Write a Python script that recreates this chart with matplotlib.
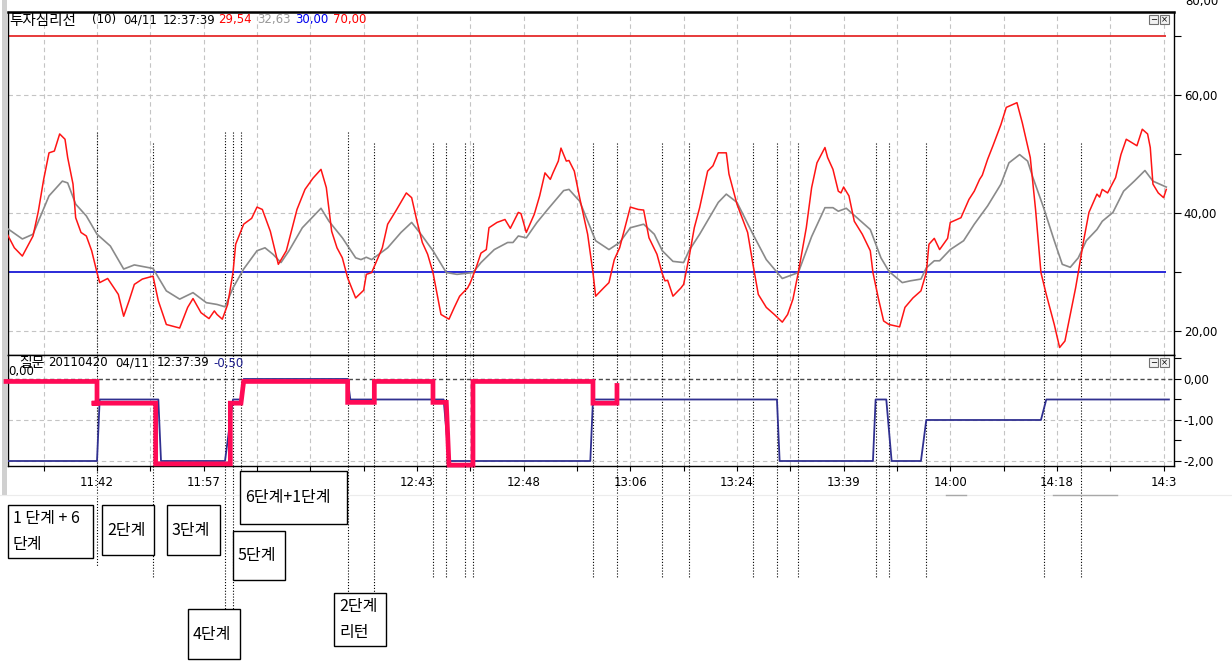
import matplotlib
matplotlib.use("Agg")
import matplotlib.pyplot as plt
from matplotlib.lines import Line2D
from matplotlib.patches import Rectangle
from matplotlib.transforms import blended_transform_factory

plt.rcParams['font.family'] = ['DejaVu Sans', 'Noto Sans CJK KR']

W, H, DPI = 1232, 669, 100

# ------------------------------------------------------------------ data
# x = bar index (20 bars between two time ticks)
red_t = [0, 3, 6, 10, 12, 14, 16, 18, 20, 22, 23, 25, 26, 28, 30, 32, 34, 35, 38, 42,
         44, 46, 48, 51, 55, 57, 60, 65, 68, 70, 73, 76, 78, 79, 81, 83, 85, 86, 89, 92,
         94, 96, 99, 102, 105, 109, 112, 115, 118, 120, 122, 124, 126, 128, 131, 134, 135, 137, 141, 143,
         146, 150, 152, 154, 156, 158, 160, 163, 166, 168, 170, 173, 174, 176, 178, 180, 181, 184, 187, 189,
         192, 193, 195, 198, 200, 202, 204, 205, 207, 208, 210, 211, 213, 215, 218, 220, 221, 224, 226, 228,
         230, 234, 237, 239, 241, 244, 246, 247, 248, 250, 253, 254, 256, 258, 260, 263, 265, 267, 270, 271,
         274, 278, 280, 282, 285, 288, 291, 293, 295, 297, 300, 302, 304, 307, 308, 310, 312, 313, 314, 316,
         318, 321, 324, 325, 327, 329, 331, 335, 337, 340, 343, 345, 346, 348, 350, 353, 354, 358, 361, 363,
         365, 366, 368, 370, 373, 375, 379, 381, 384, 386, 388, 390, 393, 395, 397, 399, 401, 402, 404, 406,
         409, 410, 411, 413, 416, 418, 420, 424, 426, 428, 429, 430, 432, 434, 435]
red_v = [36.7, 34.1, 32.7, 36.1, 40.3, 45.7, 50.2, 50.5, 53.4, 52.5, 49.4, 44.9, 39.2, 36.7, 36.1, 33.6, 29.9, 28.2, 28.9, 26.2,
         22.5, 25.1, 27.9, 28.8, 29.3, 25.1, 21.1, 20.5, 24.0, 25.5, 23.1, 22.1, 23.4, 22.8, 22.0, 24.5, 29.9, 34.7, 38.1, 39.1,
         41.0, 40.6, 36.9, 31.3, 33.6, 40.6, 44.0, 45.9, 47.4, 44.3, 36.9, 34.1, 32.4, 29.0, 25.6, 26.9, 29.6, 29.9, 34.1, 38.1,
         40.3, 43.4, 42.6, 38.6, 35.0, 33.0, 29.9, 22.8, 22.0, 24.0, 25.9, 27.3, 28.2, 30.5, 33.2, 33.8, 37.5, 38.4, 38.9, 37.4,
         40.1, 39.9, 36.7, 39.8, 42.9, 46.8, 45.7, 46.8, 48.8, 51.0, 48.8, 48.9, 47.1, 42.6, 36.4, 29.9, 25.9, 27.3, 28.2, 32.1,
         34.1, 41.0, 40.6, 40.5, 35.8, 33.0, 29.7, 28.5, 28.6, 25.9, 27.3, 27.9, 32.4, 37.5, 40.9, 47.1, 48.0, 50.2, 50.2, 46.6,
         41.5, 36.7, 31.3, 26.2, 24.0, 22.8, 21.5, 22.8, 25.4, 29.9, 37.5, 44.3, 48.5, 51.1, 49.4, 47.4, 43.7, 43.4, 44.4, 42.9,
         38.6, 36.4, 33.6, 29.9, 25.6, 21.7, 21.1, 20.7, 24.0, 25.6, 26.8, 29.9, 34.7, 35.7, 33.8, 35.7, 38.4, 39.2, 42.3, 43.7,
         45.7, 46.4, 49.1, 51.4, 55.0, 57.9, 58.7, 55.3, 49.4, 40.5, 29.9, 26.2, 21.1, 17.2, 18.3, 22.8, 27.3, 29.9, 35.3, 40.1,
         43.2, 42.7, 44.0, 43.4, 46.0, 49.9, 52.5, 51.4, 54.2, 53.4, 51.1, 44.9, 43.4, 42.6, 44.0]

gray_t = [0, 6, 10, 16, 21, 23, 26, 30, 34, 39, 44, 48, 55, 60, 65, 70, 75, 79, 82, 85,
          89, 94, 97, 100, 103, 106, 111, 118, 121, 126, 131, 133, 135, 137, 143, 148, 152, 156, 160, 165,
          169, 175, 178, 183, 188, 190, 192, 195, 199, 203, 209, 211, 215, 221, 226, 230, 234, 239, 243, 246,
          250, 254, 256, 260, 267, 270, 274, 280, 285, 291, 297, 302, 307, 310, 312, 315, 319, 324, 328, 331,
          336, 339, 343, 345, 348, 350, 354, 359, 363, 368, 373, 376, 380, 383, 385, 389, 393, 396, 399, 402,
          405, 409, 411, 415, 419, 423, 427, 430, 435]
gray_v = [37.5, 35.6, 36.4, 42.9, 45.4, 45.1, 41.5, 39.5, 36.4, 34.4, 30.5, 31.2, 30.6, 26.8, 25.4, 26.5, 24.8, 24.5, 24.1, 27.3,
          30.5, 33.6, 34.1, 33.0, 31.6, 33.6, 37.5, 40.8, 38.6, 35.8, 32.4, 32.1, 32.5, 32.1, 34.1, 36.7, 38.4, 36.1, 33.6, 29.9,
          29.6, 29.9, 31.6, 33.8, 35.0, 35.0, 36.1, 35.8, 38.4, 40.6, 43.8, 44.0, 42.0, 35.3, 33.8, 35.0, 37.5, 38.1, 36.4, 33.6,
          31.8, 31.6, 33.6, 36.4, 41.8, 43.2, 41.8, 36.4, 32.1, 28.9, 29.9, 36.0, 40.9, 40.9, 40.3, 40.8, 39.2, 37.2, 32.4, 30.1,
          28.2, 28.5, 28.8, 30.7, 31.9, 31.9, 33.8, 35.3, 38.1, 41.2, 44.9, 48.5, 49.9, 48.8, 46.0, 40.9, 35.3, 31.3, 30.8, 32.4,
          35.3, 37.2, 38.6, 40.1, 43.7, 45.4, 47.2, 45.4, 44.4]

level_low, level_high = 30, 70

step_t = [0, 34, 35, 57, 58, 82, 85, 88, 89, 128, 129, 164, 166, 219, 220, 289, 290, 325, 326, 330,
          332, 343, 345, 388, 390, 436]
step_v = [-2, -2, -0.5, -0.5, -2, -2, -0.5, -0.5, 0, 0, -0.5, -0.5, -2, -2, -0.5, -0.5, -2, -2, -0.5, -0.5,
          -2, -2, -1, -1, -0.5, -0.5]

mark_t = [-1, 34, 34, 32, 56, 56, 84, 84, 88, 89, 128, 128, 138, 138, 160, 160, 165, 166, 175, 175,
          220, 220, 229, 229]
mark_v = [-0.06, -0.06, -0.59, -0.59, -0.59, -2.07, -2.07, -0.59, -0.59, -0.06, -0.06, -0.57, -0.57, -0.06,
          -0.06, -0.57, -0.57, -2.1, -2.1, -0.06, -0.06, -0.59, -0.59, -0.1]

signal_t = [34, 55, 82, 85, 88, 128, 138, 160, 165, 172, 175, 220, 229, 246, 256, 280, 289, 297, 326, 331,
            345, 389, 403]

tick_t = list(range(14, 435, 20))
label_t = [34, 74, 154, 194, 234, 274, 314, 354, 394, 434]
label_txt = ['11:42', '11:57', '12:43', '12:48', '13:06', '13:24', '13:39', '14:00', '14:18', '14:3']

top_ticks, top_minor = [20, 40, 60], [30, 50, 70]
bot_ticks, bot_minor = [0, -1, -2], [0.5, -0.5, -1.5]

head_top = [("투자심리선", 'black'), ("(10)", 'black'), ("04/11", 'black'), ("12:37:39", 'black'),
            ("29,54", '#ff0000'), ("32,63", '#999999'), ("30,00", '#0000ee'), ("70,00", '#ff0000')]
head_bot = [("질문", 'black'), ("20110420", 'black'), ("04/11", 'black'), ("12:37:39", 'black'),
            ("-0,50", '#1c1c8c')]

box_txt = [['1 단계 + 6', '단계'], ['2단계'], ['3단계'], ['6단계+1단계'], ['5단계'], ['4단계'], ['2단계', '리턴']]

# ------------------------------------------------------------------ layout
def fx(px):
    return px / W

def fy(py):
    return 1 - py / H

fig = plt.figure(figsize=(W / DPI, H / DPI), dpi=DPI)
fig.patch.set_facecolor('white')

L, R = 8, 1174
ax1 = fig.add_axes([fx(L), fy(355), fx(R) - fx(L), fy(12) - fy(355)])
ax2 = fig.add_axes([fx(L), fy(466), fx(R) - fx(L), fy(355) - fy(466)])
XL = (0.62, 437.9)
for ax in (ax1, ax2):
    ax.set_xlim(*XL)
    ax.set_facecolor('white')
    for s in ax.spines.values():
        s.set_color('black')
        s.set_linewidth(1.0)
ax1.spines['top'].set_linewidth(1.8)
ax1.set_ylim(15.93, 74.07)
ax2.set_ylim(-2.122, 0.585)

grid_kw = dict(color='#c4c4c4', lw=0.8, ls=(0, (4, 3)), zorder=0.5)
dot_kw = dict(color='black', lw=0.8, ls=(0, (1, 1.6)))

# grids
for t in tick_t:
    ax1.axvline(t, **grid_kw)
    ax2.axvline(t, **grid_kw)
for v in top_ticks:
    ax1.axhline(v, **grid_kw)
for v in bot_ticks[1:]:
    ax2.axhline(v, **grid_kw)
ax2.axhline(0, color='#4a4a4a', lw=1.0, ls=(0, (3, 2)), zorder=0.6)

# signal lines (dotted)
sig_top = [132, 143, 132, 132, 132, 132] + [143] * (len(signal_t) - 6)
sig_end = [566, 577, 609, 609, 471, 592, 592] + [577] * (len(signal_t) - 7)
btf = blended_transform_factory(ax2.transData, fig.transFigure)
for t, yt, ye in zip(signal_t, sig_top, sig_end):
    frac = (355 - yt) / (355 - 12)
    ax1.plot([t, t], [frac, 0], transform=ax1.get_xaxis_transform(), zorder=1, **dot_kw)
    ax2.axvline(t, zorder=1, **dot_kw)
    fig.add_artist(Line2D([t, t], [fy(466), fy(ye)], transform=btf, zorder=1, **dot_kw))

# top panel lines
ax1.hlines(level_low, XL[0], red_t[-1], color='#2a2ad8', lw=1.4, zorder=2)
ax1.hlines(level_high, XL[0], red_t[-1], color='#e52b2b', lw=1.3, zorder=2)
ax1.plot(gray_t, gray_v, color='#8a8a8a', lw=1.2, zorder=3)
ax1.plot(red_t, red_v, color='#ff1414', lw=1.1, zorder=4)

# bottom panel lines
ax2.plot(step_t, step_v, color='#303090', lw=1.3, zorder=3)
ax2.plot(mark_t, mark_v, color='#ff0a56', lw=3.4, zorder=5, clip_on=False,
         solid_joinstyle='miter', solid_capstyle='butt')

# ticks
fmt = lambda v: f"{v:.2f}".replace('.', ',')
ax1.yaxis.tick_right()
ax1.set_yticks(top_ticks)
ax1.set_yticklabels([fmt(v) for v in top_ticks])
ax1.set_yticks(top_minor, minor=True)
ax1.tick_params(axis='y', which='both', direction='out', length=5, width=0.8, pad=2,
                labelsize=8.5, left=False, right=True)
ax1.tick_params(axis='x', which='both', bottom=False, labelbottom=False)

ax2.yaxis.tick_right()
ax2.set_yticks(bot_ticks)
ax2.set_yticklabels([fmt(v) for v in bot_ticks])
ax2.set_yticks(bot_minor, minor=True)
ax2.tick_params(axis='y', which='both', direction='out', length=5, width=0.8, pad=2,
                labelsize=8.5, left=False, right=True)
ax2.set_xticks(tick_t)
ax2.set_xticklabels([label_txt[label_t.index(t)] if t in label_t else '' for t in tick_t])
ax2.tick_params(axis='x', direction='out', length=3.5, width=0.8, pad=3.5, labelsize=8.5)

# headers
top_x = [9, 92, 123, 163, 218, 257, 295, 333]
for (s, c), x in zip(head_top, top_x):
    fs = 10.5 if s == head_top[0][0] else 8.5
    fig.text(fx(x), fy(20), s, color=c, fontsize=fs, va='center', ha='left', zorder=20)
bot_x = [19, 48, 115, 157, 213]
fig.text(fx(8), fy(371), fmt(0), fontsize=8.5, va='center', ha='left', zorder=19)
for (s, c), x in zip(head_bot, bot_x):
    fs = 10 if s == head_bot[0][0] else 8.5
    fig.text(fx(x), fy(363), s, color=c, fontsize=fs, va='center', ha='left', zorder=20)
# partially clipped axis label at the very top edge
fig.text(fx(1185), fy(5), fmt(80), fontsize=8.5, va='baseline', ha='left')

# window buttons
for yb in (15, 358):
    for xb, g in ((1149, '\u2212'), (1160, '\u00d7')):
        fig.add_artist(Rectangle((fx(xb), fy(yb + 9)), fx(9), 9 / H, transform=fig.transFigure,
                                 facecolor='#f2f2f2', edgecolor='#707070', lw=0.8, zorder=20))
        fig.text(fx(xb + 4.5), fy(yb + 4.5), g, fontsize=6, ha='center', va='center', zorder=21)

# frame decorations
fig.add_artist(Rectangle((fx(2), fy(495)), fx(5), 495 / H, transform=fig.transFigure,
                         facecolor='#d0d0d0', edgecolor='none', zorder=0))
fig.add_artist(Line2D([0, 1], [fy(495), fy(495)], transform=fig.transFigure, color='#ececec', lw=0.8))
for a, b in ((946, 966), (1053, 1117)):
    fig.add_artist(Line2D([fx(a), fx(b)], [fy(495), fy(495)], transform=fig.transFigure,
                          color='#a8a8a8', lw=1.0))

# annotation boxes
box_pos = [(8, 505, 93, 558), (102, 505, 154, 555), (167, 505, 220, 555), (240, 471, 347, 524),
           (233, 531, 285, 580), (188, 609, 240, 659), (334, 593, 386, 646)]
for (x0, y0, x1, y1), lines in zip(box_pos, box_txt):
    fig.add_artist(Rectangle((fx(x0), fy(y1)), fx(x1 - x0), (y1 - y0) / H, transform=fig.transFigure,
                             facecolor='white', edgecolor='black', lw=1.0, zorder=10))
    if len(lines) == 1:
        ys = [(y0 + y1) / 2]
    else:
        ys = [y0 + 14, y0 + 40]
    for s, yy in zip(lines, ys):
        fig.text(fx(x0 + 5), fy(yy), s, fontsize=11.5, va='center', ha='left',
                 family=['Noto Sans CJK KR', 'DejaVu Sans'], zorder=11)

fig.savefig('out.png', dpi=DPI, facecolor='white')
